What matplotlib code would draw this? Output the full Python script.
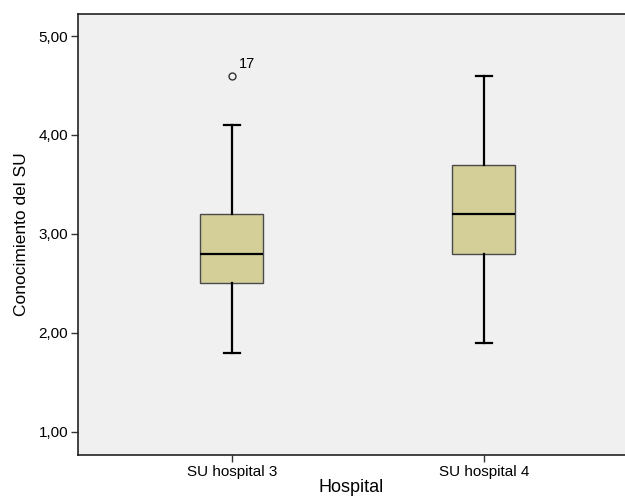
import matplotlib.pyplot as plt
import matplotlib.ticker as mticker

plt.rcParams['font.family'] = ['Liberation Sans', 'DejaVu Sans']

# ─── DATA ────────────────────────────────────────────
groups = ['SU hospital 3', 'SU hospital 4']
whislo = [1.8, 1.9]
q1 = [2.5, 2.8]
med = [2.8, 3.2]
q3 = [3.2, 3.7]
whishi = [4.1, 4.6]
fliers = [[4.6], []]
flier_ids = [['17'], []]

stats = []
for i, g in enumerate(groups):
    stats.append({'label': g, 'whislo': whislo[i], 'q1': q1[i], 'med': med[i],
                  'q3': q3[i], 'whishi': whishi[i], 'fliers': fliers[i]})

fig = plt.figure(figsize=(6.25, 4.96), dpi=100)
ax = fig.add_axes([0.1248, 0.0827, 0.8752, 0.889])
ax.set_facecolor('#f0f0f0')

positions = [1, 2]
ax.bxp(stats, positions=positions, widths=0.25, capwidths=0.064,
       patch_artist=True,
       boxprops=dict(facecolor='#d4ce99', edgecolor='#4a4a4a', linewidth=1.0),
       medianprops=dict(color='black', linewidth=1.6),
       whiskerprops=dict(color='black', linewidth=1.6),
       capprops=dict(color='black', linewidth=1.6),
       flierprops=dict(marker='o', markersize=5, markerfacecolor='none',
                       markeredgecolor='#333333', markeredgewidth=1.0))

# outlier case numbers
for pos, vals, ids in zip(positions, fliers, flier_ids):
    for v, t in zip(vals, ids):
        ax.annotate(t, (pos, v), xytext=(5, 3), textcoords='offset points',
                    fontsize=10.5, ha='left', va='bottom')

ax.set_xlim(0.389, 2.56)
ax.set_ylim(0.767, 5.222)
ax.set_yticks([1, 2, 3, 4, 5])
ax.yaxis.set_major_formatter(mticker.FuncFormatter(lambda v, p: f'{v:.2f}'.replace('.', ',')))
ax.set_xticks(positions)
ax.set_xticklabels(groups)

ax.tick_params(axis='both', direction='out', length=5, width=1.0, color='#333333',
               labelsize=11, pad=2)
for s in ['left', 'bottom', 'top']:
    ax.spines[s].set_color('#222222')
    ax.spines[s].set_linewidth(1.2)
ax.spines['right'].set_visible(False)

ax.set_xlabel('Hospital', fontsize=13, labelpad=0)
ax.set_ylabel('Conocimiento del SU', fontsize=12.5, labelpad=7)

fig.savefig('out.png', dpi=100)
